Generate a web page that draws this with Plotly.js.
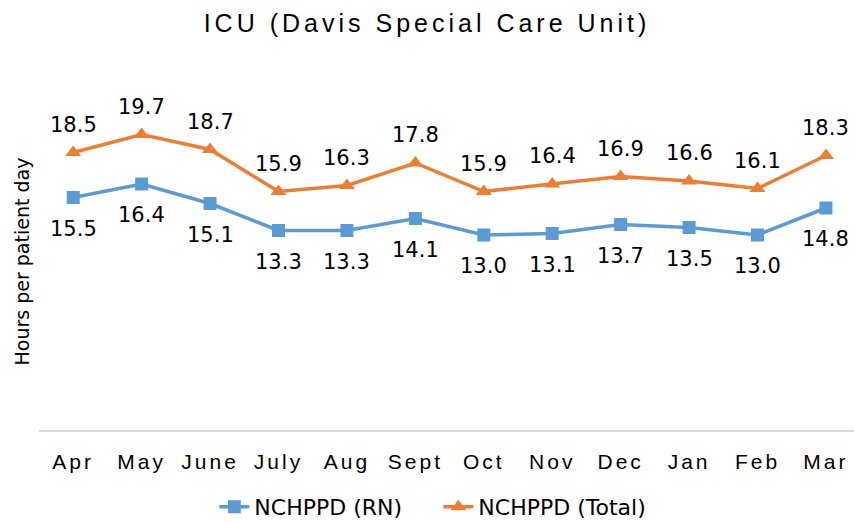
<!DOCTYPE html>
<html><head><meta charset="utf-8">
<script src="https://cdn.plot.ly/plotly-3.0.1.min.js"></script>
<style>
html,body{margin:0;padding:0;background:#fff}
#chart{width:854px;height:522px}
.gtitle{letter-spacing:4px}
.xtick text{letter-spacing:3px}
</style>
</head><body><div id="chart"></div>
<script>
const months = ["Apr","May","June","July","Aug","Sept","Oct","Nov","Dec","Jan","Feb","Mar"];
const rnValues = [15.5,16.4,15.1,13.3,13.3,14.1,13.0,13.1,13.7,13.5,13.0,14.8];
const totalValues = [18.5,19.7,18.7,15.9,16.3,17.8,15.9,16.4,16.9,16.6,16.1,18.3];
const seriesNames = ["NCHPPD (RN)","NCHPPD (Total)"];

const idx = months.map((_, i) => i);
const traces = [
  {x: idx, y: rnValues, name: seriesNames[0], mode: "lines+markers", type: "scatter",
   line: {color: "#5B9BD5", width: 3.5}, marker: {symbol: "square", size: 13, color: "#5B9BD5"}},
  {x: idx, y: totalValues, name: seriesNames[1], mode: "lines+markers", type: "scatter",
   line: {color: "#ED7D31", width: 3.5}, marker: {symbol: "triangle-up", size: 14, color: "#ED7D31"}}
];
const labelFont = {family: "DejaVu Sans, sans-serif", size: 21, color: "#000"};
const annotations = [];
idx.forEach(i => {
  annotations.push({x: i, y: rnValues[i], xref: "x", yref: "y", text: rnValues[i].toFixed(1),
    showarrow: false, yshift: -31, font: labelFont});
  annotations.push({x: i, y: totalValues[i], xref: "x", yref: "y", text: totalValues[i].toFixed(1),
    showarrow: false, yshift: 28, font: labelFont});
});
annotations.push({xref: "paper", yref: "paper", x: -0.021, y: 0.449, xanchor: "center", yanchor: "middle",
  text: "Hours per patient day", textangle: -90, showarrow: false,
  font: {family: "DejaVu Sans, sans-serif", size: 19, color: "#000"}});

const layout = {
  width: 854, height: 522,
  margin: {l: 39, r: 0, t: 55, b: 92},
  paper_bgcolor: "#fff", plot_bgcolor: "#fff",
  title: {text: "ICU (Davis Special Care Unit)", x: 0.5, xanchor: "center", y: 0.955, yanchor: "middle",
    font: {family: "Liberation Sans, Arial, sans-serif", size: 25, color: "#000"}},
  xaxis: {range: [-0.5, 11.41], tickvals: idx, ticktext: months, showgrid: false, zeroline: false,
    showline: true, linecolor: "#D9D9D9", linewidth: 1.5, ticks: "", ticklabelstandoff: 12, automargin: false,
    tickfont: {family: "Liberation Sans, Arial, sans-serif", size: 21, color: "#000"}},
  yaxis: {range: [0, 25], showgrid: false, zeroline: false, showticklabels: false, showline: false, ticks: ""},
  showlegend: true,
  legend: {orientation: "h", x: 0.49, xanchor: "center", yref: "container", y: 0.0287, yanchor: "middle",
    entrywidth: 179, entrywidthmode: "pixels",
    font: {family: "DejaVu Sans, sans-serif", size: 22, color: "#000"}},
  annotations: annotations
};
Plotly.newPlot("chart", traces, layout, {displayModeBar: false, staticPlot: true});
</script></body></html>
